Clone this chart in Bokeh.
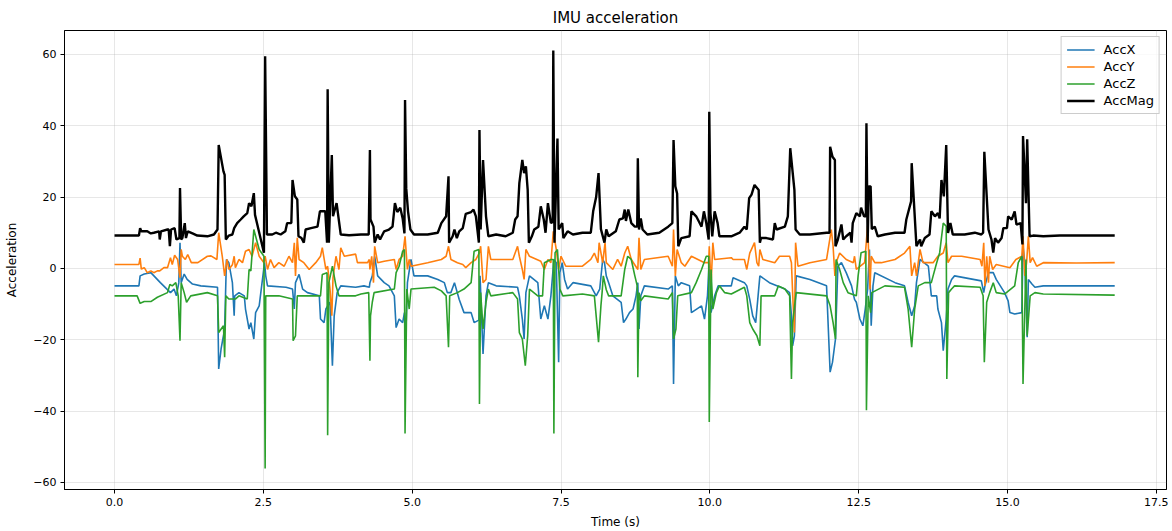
from bokeh.plotting import figure
from bokeh.models import Range1d, FixedTicker, Legend, LegendItem
from bokeh.embed import file_html
from bokeh.resources import INLINE

# (time s, value) pairs
acc_mag = [
 (0.00,9.2),(0.41,9.2),(0.43,11.3),(0.45,10.4),(0.55,10.4),(0.61,9.8),(0.66,10.0),(0.75,10.4),(0.76,8.1),(0.78,10.4),
 (0.89,10.9),(0.91,10.9),(0.93,6.2),(0.95,10.9),(1.01,11.3),(1.04,8.1),(1.09,8.5),(1.10,22.5),(1.12,8.1),(1.14,8.5),
 (1.18,12.7),(1.20,8.5),(1.23,10.4),(1.31,9.8),(1.39,9.2),(1.56,9.0),(1.67,9.5),(1.73,10.9),(1.75,34.6),(1.83,27.2),
 (1.85,26.2),(1.87,8.1),(1.92,9.2),(1.98,9.5),(2.01,11.3),(2.06,12.7),(2.12,13.7),(2.17,14.6),(2.23,15.5),(2.26,18.3),
 (2.30,17.4),(2.34,21.1),(2.36,15.0),(2.51,4.4),(2.53,59.5),(2.55,26.7),(2.56,9.5),(2.65,9.5),(2.71,10.0),(2.79,9.5),
 (2.87,10.4),(2.90,12.7),(2.97,12.7),(2.99,24.8),(3.03,20.2),(3.07,19.3),(3.09,9.0),(3.14,8.5),(3.18,7.2),(3.21,10.9),
 (3.30,11.3),(3.41,11.7),(3.45,16.0),(3.54,16.0),(3.57,7.2),(3.58,50.2),(3.60,7.2),(3.65,31.8),(3.67,14.6),(3.73,18.3),
 (3.80,9.5),(3.94,9.3),(4.14,9.5),(4.27,9.5),(4.29,33.2),(4.30,13.7),(4.35,11.7),(4.37,7.2),(4.42,9.5),(4.46,8.1),
 (4.53,10.4),(4.61,10.9),(4.67,11.7),(4.71,18.3),(4.75,15.8),(4.80,17.0),(4.84,14.0),(4.87,9.8),(4.88,47.2),(4.90,22.5),
 (4.93,16.0),(4.97,10.9),(5.03,9.5),(5.26,9.5),(5.43,10.0),(5.49,12.7),(5.57,14.6),(5.61,25.8),(5.62,7.2),(5.68,9.0),
 (5.71,10.9),(5.75,8.5),(5.79,10.4),(5.85,11.3),(5.90,15.3),(5.99,15.8),(6.03,16.5),(6.07,14.6),(6.12,7.2),(6.13,38.8),
 (6.15,10.9),(6.19,30.4),(6.24,14.6),(6.28,9.0),(6.41,9.5),(6.57,9.0),(6.69,10.0),(6.73,13.7),(6.77,14.6),(6.80,23.9),
 (6.85,30.4),(6.88,26.7),(6.91,28.6),(6.94,22.0),(6.96,7.2),(7.01,9.0),(7.05,10.9),(7.12,11.7),(7.16,17.4),(7.21,13.7),
 (7.24,10.0),(7.28,18.3),(7.33,12.7),(7.36,13.0),(7.37,61.1),(7.39,7.2),(7.44,36.4),(7.46,10.9),(7.52,12.7),(7.54,8.5),
 (7.61,10.4),(7.70,9.5),(7.86,10.0),(8.00,10.0),(8.04,16.0),(8.09,20.0),(8.13,26.7),(8.17,11.0),(8.23,7.2),(8.26,10.9),
 (8.30,9.0),(8.42,10.4),(8.48,13.7),(8.54,14.0),(8.57,16.5),(8.59,13.3),(8.63,16.5),(8.68,12.7),(8.74,11.7),(8.78,11.7),
 (8.79,30.9),(8.81,10.9),(8.84,14.0),(8.87,10.9),(8.95,9.5),(9.15,10.0),(9.30,11.7),(9.37,12.7),(9.39,36.0),(9.42,23.0),
 (9.45,21.0),(9.47,6.2),(9.52,8.5),(9.66,9.0),(9.69,16.0),(9.77,14.6),(9.82,13.0),(9.86,11.7),(9.90,16.0),(9.94,12.7),
 (9.98,8.1),(9.99,43.9),(10.01,15.5),(10.04,9.0),(10.08,16.0),(10.13,12.7),(10.16,9.0),(10.36,9.0),(10.50,10.0),(10.58,11.7),
 (10.62,10.9),(10.66,19.7),(10.70,20.7),(10.75,23.4),(10.82,22.0),(10.84,7.2),(10.86,8.5),(10.95,8.5),(11.06,8.1),(11.09,12.7),
 (11.12,10.9),(11.26,11.7),(11.31,14.6),(11.35,33.7),(11.42,22.0),(11.44,10.9),(11.51,9.5),(11.68,9.5),(11.96,10.0),(12.01,10.0),
 (12.02,34.1),(12.06,31.3),(12.10,30.4),(12.11,6.2),(12.15,8.1),(12.21,12.3),(12.24,8.1),(12.29,9.0),(12.36,10.0),(12.38,7.2),
 (12.40,12.7),(12.46,15.5),(12.52,14.6),(12.54,17.0),(12.59,14.6),(12.62,14.6),(12.63,40.7),(12.65,7.2),(12.67,23.0),(12.70,23.0),
 (12.72,11.0),(12.77,11.7),(12.82,9.0),(12.94,9.5),(13.11,10.0),(13.27,10.0),(13.30,13.7),(13.38,18.8),(13.39,29.5),(13.47,6.2),
 (13.50,7.2),(13.53,8.1),(13.55,6.2),(13.61,8.5),(13.69,9.5),(13.72,16.0),(13.78,14.6),(13.83,15.5),(13.86,14.0),(13.89,24.8),
 (13.93,20.2),(13.97,34.6),(14.00,9.9),(14.04,12.7),(14.08,9.5),(14.28,9.5),(14.45,10.0),(14.56,9.5),(14.59,10.0),(14.61,32.7),
 (14.68,10.9),(14.73,8.1),(14.76,4.4),(14.79,8.5),(14.84,7.2),(14.90,8.5),(14.93,11.3),(14.99,11.3),(15.01,14.6),(15.07,13.7),
 (15.12,16.0),(15.15,12.3),(15.22,12.7),(15.25,6.7),(15.26,37.1),(15.31,18.3),(15.33,36.2),(15.37,9.0),(15.43,9.2),(15.60,9.0),
 (15.88,9.2),(16.16,9.2),(16.80,9.2),
]

acc_y = [
 (0.00,1.1),(0.41,1.1),(0.43,2.9),(0.45,-0.2),(0.50,0.2),(0.55,-1.2),(0.61,-0.7),(0.66,-1.2),(0.72,-0.7),(0.76,-0.7),
 (0.83,0.2),(0.89,0.2),(0.94,3.0),(0.97,1.1),(1.01,3.7),(1.06,2.5),(1.10,-2.6),(1.12,5.3),(1.14,3.4),(1.19,2.5),
 (1.23,3.9),(1.29,1.6),(1.40,1.6),(1.56,3.4),(1.62,3.5),(1.72,2.5),(1.75,10.0),(1.81,3.4),(1.85,-2.1),(1.89,2.5),
 (1.92,-0.3),(1.98,1.0),(2.01,3.4),(2.03,0.2),(2.09,2.5),(2.15,1.6),(2.20,4.8),(2.26,5.3),(2.31,3.4),(2.37,7.2),
 (2.43,3.4),(2.51,1.6),(2.53,3.4),(2.57,-0.3),(2.62,2.5),(2.68,0.2),(2.76,1.6),(2.85,0.6),(2.93,3.4),(2.99,1.6),
 (3.02,7.2),(3.04,-2.1),(3.07,8.6),(3.10,2.5),(3.18,1.6),(3.27,-0.3),(3.38,1.6),(3.46,3.4),(3.49,5.8),(3.55,-0.3),
 (3.58,0.6),(3.62,-5.9),(3.65,-13.3),(3.67,-2.6),(3.72,3.4),(3.77,-0.3),(3.80,5.8),(3.86,3.4),(4.05,4.0),(4.08,1.6),
 (4.25,1.6),(4.28,2.5),(4.29,-0.3),(4.32,3.4),(4.35,-4.0),(4.37,6.2),(4.42,1.6),(4.53,2.0),(4.70,2.5),(4.73,-0.3),
 (4.78,2.5),(4.84,3.4),(4.88,9.0),(4.92,-0.3),(4.95,2.5),(4.98,0.6),(5.26,1.6),(5.49,2.5),(5.57,3.4),(5.61,6.2),
 (5.65,2.5),(5.76,1.6),(5.85,1.1),(5.90,0.2),(5.99,1.6),(6.07,2.5),(6.13,4.4),(6.15,6.2),(6.19,-4.0),(6.24,-3.1),
 (6.28,6.2),(6.32,2.5),(6.46,2.5),(6.69,2.5),(6.77,6.2),(6.80,3.4),(6.85,-0.3),(6.88,-3.1),(6.91,5.3),(6.97,3.4),
 (7.16,2.0),(7.22,-0.3),(7.28,2.5),(7.33,1.6),(7.37,10.4),(7.42,5.3),(7.46,-0.3),(7.50,3.4),(7.58,0.6),(7.86,0.6),
 (8.00,2.5),(8.06,4.3),(8.12,1.6),(8.14,7.2),(8.20,1.6),(8.24,7.2),(8.26,1.6),(8.37,-0.3),(8.45,2.5),(8.51,0.6),
 (8.57,4.3),(8.62,6.2),(8.68,2.5),(8.79,-0.3),(8.81,8.6),(8.84,-0.3),(8.90,2.5),(9.30,3.4),(9.37,0.6),(9.39,10.9),
 (9.42,-2.1),(9.45,5.3),(9.52,1.6),(9.58,0.6),(9.69,3.4),(9.91,1.6),(9.98,1.6),(9.99,6.2),(10.02,-4.9),(10.05,7.2),
 (10.08,2.5),(10.36,3.0),(10.39,2.5),(10.58,2.5),(10.62,-0.3),(10.67,4.3),(10.75,7.2),(10.79,1.6),(10.82,0.6),(10.84,5.3),
 (10.89,2.5),(11.09,1.6),(11.17,3.4),(11.34,3.4),(11.37,1.6),(11.39,-6.8),(11.42,-18.0),(11.44,7.2),(11.48,0.6),(11.68,1.6),
 (11.96,2.5),(12.04,10.9),(12.07,6.2),(12.10,-2.1),(12.12,1.6),(12.18,4.3),(12.29,2.5),(12.41,1.6),(12.43,3.4),(12.46,-0.3),
 (12.60,1.6),(12.65,12.0),(12.69,-5.9),(12.71,3.4),(12.77,1.6),(12.88,1.6),(13.11,2.5),(13.27,4.3),(13.36,6.2),(13.39,-2.1),
 (13.44,1.6),(13.47,-2.1),(13.53,5.3),(13.58,1.6),(13.75,1.6),(13.83,3.4),(13.92,4.3),(13.97,7.2),(14.00,1.6),(14.06,3.4),
 (14.23,3.4),(14.54,2.5),(14.57,0.6),(14.60,7.2),(14.62,-4.9),(14.65,3.4),(14.68,-4.0),(14.70,3.4),(14.75,-0.3),(14.81,1.1),
 (15.04,0.2),(15.14,2.5),(15.24,3.4),(15.26,9.0),(15.29,-2.1),(15.32,1.6),(15.35,9.0),(15.38,1.6),(15.42,3.0),(15.49,0.6),
 (15.60,1.6),(16.16,1.5),(16.80,1.6),
]

acc_x = [
 (0.00,-4.9),(0.41,-4.9),(0.43,-2.1),(0.50,-1.6),(0.61,-1.2),(0.69,-2.6),(0.77,-4.0),(0.94,-6.8),(1.00,-5.8),(1.04,-7.7),
 (1.08,-4.0),(1.10,7.2),(1.12,-4.0),(1.17,-1.6),(1.22,-3.1),(1.31,-4.4),(1.45,-4.9),(1.73,-5.3),(1.75,-28.2),(1.79,-22.6),
 (1.85,-17.0),(1.88,2.5),(1.92,1.6),(1.98,-4.0),(2.01,-13.3),(2.02,-7.7),(2.09,-6.8),(2.18,-7.7),(2.20,-11.4),(2.26,-17.0),
 (2.29,-15.2),(2.34,-19.8),(2.37,-12.4),(2.43,-10.5),(2.52,1.6),(2.54,-2.1),(2.57,-4.9),(2.88,-5.3),(2.99,-5.8),(3.02,-11.4),
 (3.04,-4.0),(3.10,-1.7),(3.16,-5.8),(3.24,-6.8),(3.44,-7.7),(3.46,-14.2),(3.52,-15.2),(3.55,-11.4),(3.62,-9.5),(3.66,-27.3),
 (3.69,-13.3),(3.74,-6.8),(3.80,-4.9),(4.05,-5.3),(4.19,-4.9),(4.28,-5.3),(4.29,-4.0),(4.33,-2.1),(4.37,3.4),(4.42,-2.1),
 (4.53,-4.0),(4.61,-4.9),(4.70,-7.7),(4.73,-16.6),(4.78,-14.2),(4.84,-15.2),(4.87,-12.4),(4.89,-20.3),(4.92,-4.0),(4.98,2.5),
 (5.03,-2.1),(5.26,-2.1),(5.43,-3.1),(5.54,-4.0),(5.59,-6.8),(5.65,-6.8),(5.71,-4.0),(5.79,-8.7),(5.87,-12.4),(5.99,-12.4),
 (6.04,-15.2),(6.12,-14.5),(6.14,-2.1),(6.19,-24.0),(6.24,-7.7),(6.28,-4.0),(6.41,-4.9),(6.77,-5.3),(6.80,-7.7),(6.85,-14.2),
 (6.88,-19.8),(6.91,-6.8),(6.97,-2.1),(7.11,-4.0),(7.16,-14.2),(7.22,-10.5),(7.28,-14.2),(7.33,-7.7),(7.38,2.5),(7.42,1.6),
 (7.46,-26.3),(7.48,-1.2),(7.52,1.6),(7.56,-3.1),(7.61,-5.8),(7.70,-4.0),(8.00,-4.9),(8.09,-7.7),(8.15,-5.8),(8.20,2.5),
 (8.23,1.6),(8.26,-2.1),(8.30,-4.0),(8.37,-7.7),(8.51,-9.5),(8.55,-15.2),(8.59,-14.2),(8.65,-12.4),(8.71,-11.4),(8.76,-7.7),
 (8.79,-4.0),(8.81,-17.0),(8.84,-7.7),(8.90,-4.9),(9.30,-5.8),(9.37,-4.9),(9.39,-32.4),(9.42,-2.1),(9.47,-4.9),(9.52,-4.0),
 (9.66,-4.9),(9.69,-12.4),(9.86,-10.5),(9.91,-14.2),(9.96,-7.7),(9.99,2.5),(10.02,-12.4),(10.08,-7.7),(10.14,-4.9),(10.36,-4.9),
 (10.39,-2.6),(10.58,-4.0),(10.62,-4.9),(10.67,-8.7),(10.72,-13.3),(10.77,-15.2),(10.81,-7.7),(10.84,-2.1),(11.00,-4.0),(11.26,-5.8),
 (11.34,-6.8),(11.37,-13.3),(11.39,-21.7),(11.42,-18.9),(11.45,-2.1),(11.68,-3.1),(11.96,-4.9),(12.02,-29.1),(12.06,-26.3),(12.11,-19.8),
 (12.15,0.6),(12.21,1.6),(12.29,-1.2),(12.38,-4.9),(12.43,-8.7),(12.46,-9.5),(12.52,-14.2),(12.57,-16.1),(12.61,-11.4),(12.65,-5.8),
 (12.68,5.3),(12.71,-16.1),(12.74,-4.9),(12.77,-1.2),(13.11,-4.0),(13.27,-4.9),(13.33,-9.5),(13.39,-13.3),(13.44,-10.5),(13.47,-4.0),
 (13.53,2.5),(13.67,0.6),(13.72,-7.7),(13.81,-7.7),(13.83,-11.4),(13.89,-15.2),(13.92,-23.1),(13.97,-14.2),(14.00,-5.8),(14.06,-3.1),
 (14.11,-2.1),(14.56,-3.5),(14.60,-6.8),(14.62,-4.9),(14.68,-1.2),(14.76,-1.2),(14.81,-3.1),(14.95,-6.8),(15.01,-9.1),(15.04,-12.4),
 (15.12,-12.8),(15.24,-12.4),(15.26,6.2),(15.29,1.6),(15.33,-19.3),(15.35,-3.1),(15.41,-4.4),(15.46,-5.3),(15.60,-4.9),(16.80,-4.9),
]

acc_z = [
 (0.00,-7.7),(0.38,-7.7),(0.43,-9.8),(0.50,-9.3),(0.61,-9.3),(0.72,-8.1),(0.89,-6.8),(0.93,-4.5),(0.97,-4.9),(1.03,-4.0),
 (1.07,-7.7),(1.10,-20.3),(1.12,-4.0),(1.17,-6.8),(1.21,-9.5),(1.28,-7.7),(1.56,-6.8),(1.73,-7.7),(1.75,-18.0),(1.83,-16.1),
 (1.85,-24.9),(1.87,-7.7),(1.92,-8.6),(2.03,-8.6),(2.09,-7.7),(2.23,-8.6),(2.26,-0.3),(2.29,-0.7),(2.34,10.9),(2.43,5.3),
 (2.51,3.4),(2.53,-56.1),(2.54,-7.7),(2.76,-7.7),(2.99,-8.6),(3.00,-20.3),(3.04,-18.9),(3.07,-7.7),(3.46,-7.7),(3.49,-1.7),
 (3.57,-1.2),(3.58,-46.8),(3.60,-4.0),(3.66,0.6),(3.72,-4.9),(3.77,-7.7),(4.05,-7.7),(4.14,-7.2),(4.27,-6.8),(4.29,-25.9),
 (4.30,-13.3),(4.33,-9.5),(4.36,-6.8),(4.70,-5.8),(4.73,-1.2),(4.78,0.6),(4.84,4.8),(4.87,5.3),(4.88,-46.3),(4.91,-5.8),
 (4.95,-11.4),(4.98,-5.8),(5.37,-5.3),(5.49,-6.3),(5.57,-7.7),(5.61,-22.1),(5.63,-7.7),(5.76,-6.8),(5.87,-5.8),(5.99,-4.0),
 (6.04,4.8),(6.12,5.3),(6.13,-38.0),(6.15,-6.8),(6.19,-17.0),(6.24,-9.5),(6.28,-5.8),(6.32,-7.7),(6.69,-6.8),(6.77,-8.6),
 (6.80,-18.0),(6.85,-19.8),(6.90,-27.3),(6.94,-18.9),(6.97,-5.8),(7.11,-7.7),(7.19,-7.7),(7.22,1.6),(7.33,2.5),(7.37,2.5),
 (7.38,-46.3),(7.40,4.4),(7.44,5.3),(7.48,-5.8),(7.53,-7.7),(7.86,-7.2),(8.06,-7.7),(8.13,-20.7),(8.17,-10.5),(8.19,-6.8),
 (8.21,-2.1),(8.26,-6.0),(8.30,-7.7),(8.51,-7.7),(8.57,-0.3),(8.62,3.4),(8.68,2.5),(8.74,-2.1),(8.78,-4.9),(8.79,-30.5),
 (8.81,-6.8),(8.84,-9.1),(8.90,-7.7),(9.30,-8.6),(9.37,-6.8),(9.39,-19.8),(9.43,-17.0),(9.46,-7.7),(9.69,-6.8),(9.77,-4.0),
 (9.86,-0.3),(9.94,3.4),(9.98,3.4),(9.99,-43.1),(10.02,-0.3),(10.05,-11.4),(10.11,-6.8),(10.16,-4.9),(10.25,-6.8),(10.36,-7.2),
 (10.58,-5.3),(10.62,-7.7),(10.67,-15.2),(10.72,-17.0),(10.79,-18.9),(10.84,-21.7),(10.86,-7.7),(11.09,-7.7),(11.15,-4.9),(11.26,-5.8),
 (11.34,-7.7),(11.37,-31.0),(11.39,-15.2),(11.45,-6.8),(11.96,-7.7),(12.02,-10.5),(12.07,-15.2),(12.11,-19.8),(12.12,2.5),(12.18,-0.3),
 (12.24,-4.0),(12.32,-6.8),(12.46,-7.7),(12.49,-2.1),(12.54,4.4),(12.62,4.8),(12.63,-39.8),(12.66,-7.7),(12.70,-12.4),(12.72,-6.8),
 (12.94,-4.9),(13.27,-5.3),(13.33,-11.4),(13.39,-22.1),(13.44,-11.4),(13.50,-4.9),(13.61,-4.0),(13.72,-4.0),(13.75,-2.1),(13.81,1.6),
 (13.86,4.4),(13.92,12.7),(13.97,11.8),(13.98,-31.0),(14.01,-6.8),(14.06,-5.8),(14.11,-4.9),(14.54,-5.3),(14.59,-7.7),(14.61,-26.3),
 (14.65,-9.5),(14.70,-6.8),(14.76,-4.0),(14.81,-6.8),(14.95,-7.2),(15.12,-4.9),(15.18,1.6),(15.24,3.4),(15.26,-32.4),(15.31,2.5),
 (15.33,-18.9),(15.38,-7.7),(15.46,-6.8),(15.60,-7.2),(16.80,-7.5),
]

series_names = ["AccX", "AccY", "AccZ", "AccMag"]
x_ticks = [0, 2.5, 5, 7.5, 10, 12.5, 15, 17.5]
y_ticks = [-60, -40, -20, 0, 20, 40, 60]

FONT = "DejaVu Sans"

p = figure(width=1168, height=531, output_backend="svg", toolbar_location=None,
           x_range=Range1d(-0.84, 17.67), y_range=Range1d(-62.0, 66.7),
           min_border_left=64, min_border_right=2, min_border_top=30, min_border_bottom=37)

p.title.text = "IMU acceleration"
p.title.align = "center"
p.title.text_font = FONT
p.title.text_font_size = "15px"
p.title.text_font_style = "normal"
p.title.text_color = "black"
p.title.offset = 0
p.title.standoff = 7

p.outline_line_color = "black"
p.outline_line_width = 1
p.background_fill_color = "white"
p.border_fill_color = "white"

for ax in (p.xaxis[0], p.yaxis[0]):
    ax.major_label_text_font = FONT
    ax.major_label_text_font_size = "11px"
    ax.major_label_text_color = "black"
    ax.axis_label_text_font = FONT
    ax.axis_label_text_font_size = "12px"
    ax.axis_label_text_font_style = "normal"
    ax.axis_label_text_color = "black"
    ax.major_tick_in = 0
    ax.major_tick_out = 4
    ax.minor_tick_in = 0
    ax.minor_tick_out = 0
    ax.axis_line_color = "black"
    ax.major_tick_line_color = "black"

p.xaxis[0].ticker = FixedTicker(ticks=x_ticks)
p.xaxis[0].major_label_overrides = {t: f"{t:.1f}" for t in x_ticks}
p.yaxis[0].ticker = FixedTicker(ticks=y_ticks)
p.xaxis[0].axis_label = "Time (s)"
p.yaxis[0].axis_label = "Acceleration"
p.xaxis[0].axis_label_standoff = 6
p.yaxis[0].axis_label_standoff = 11
p.xaxis[0].major_label_standoff = 4
p.yaxis[0].major_label_standoff = 4

p.xgrid.ticker = FixedTicker(ticks=x_ticks)
p.ygrid.ticker = FixedTicker(ticks=y_ticks)
p.grid.grid_line_color = "#b0b0b0"
p.grid.grid_line_alpha = 0.3
p.grid.grid_line_width = 1

def unzip(pairs):
    pairs = sorted(pairs, key=lambda q: q[0])
    return [a for a, _ in pairs], [b for _, b in pairs]

data = [acc_x, acc_y, acc_z, acc_mag]
colors = ["#1f77b4", "#ff7f0e", "#2ca02c", "black"]
widths = [1.6, 1.6, 1.6, 2.4]
items = []
for name, d, c, w in zip(series_names, data, colors, widths):
    xs, ys = unzip(d)
    r = p.line(xs, ys, line_color=c, line_width=w)
    items.append(LegendItem(label=name, renderers=[r]))

legend = Legend(items=items, location="top_right")
legend.label_text_font = FONT
legend.label_text_font_size = "13px"
legend.label_text_color = "black"
legend.border_line_color = "#cccccc"
legend.border_line_alpha = 1
legend.background_fill_alpha = 0.8
legend.glyph_width = 28
legend.glyph_height = 15
legend.label_height = 15
legend.spacing = 2
legend.padding = 5
legend.margin = 6
legend.label_standoff = 9
p.add_layout(legend)

open("out.html", "w").write(file_html(p, INLINE))
